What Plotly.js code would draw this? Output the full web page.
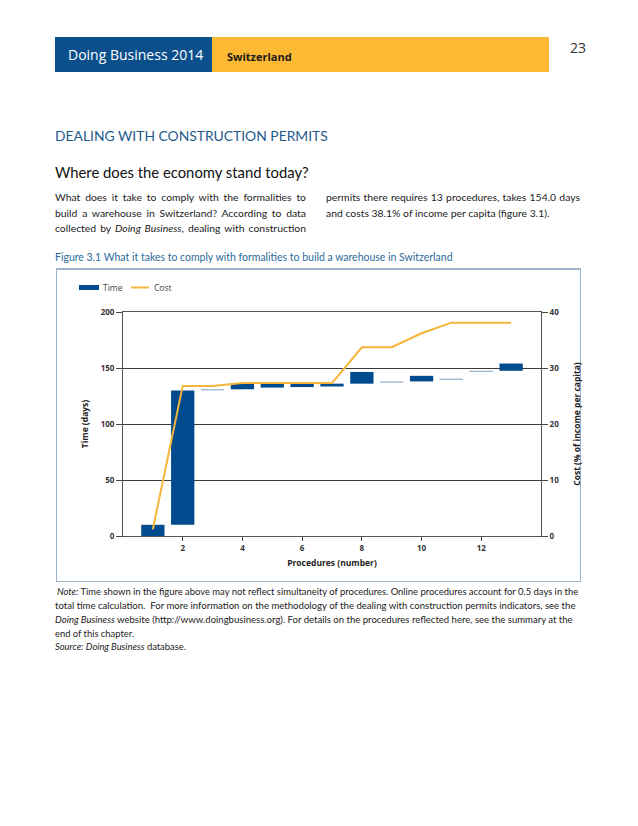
<!DOCTYPE html>
<html><head><meta charset="utf-8">
<script src="https://cdn.plot.ly/plotly-3.0.1.min.js"></script>
<style>
html,body{margin:0;padding:0;background:#fff;width:638px;height:826px;overflow:hidden;}
.abs{position:absolute;white-space:nowrap;}
.body{font-family:Lato,'Open Sans',sans-serif;font-size:10.4px;color:#222;line-height:14px;}
.just{text-align:justify;text-align-last:justify;}
.note{font-family:Lato,'Open Sans',sans-serif;font-size:9.4px;color:#222;line-height:12px;}
#chart{position:absolute;left:0;top:0;width:638px;height:826px;}
</style></head><body>
<div class="abs" style="left:55px;top:37px;width:157px;height:35px;background:#0b4f8c"></div>
<div class="abs" style="left:212px;top:37px;width:337px;height:35px;background:#fdb933"></div>
<div class="abs" style="left:68px;top:45px;font:14px 'Open Sans',sans-serif;color:#fff;line-height:20px">Doing Business 2014</div>
<div class="abs" style="left:227px;top:49px;font:bold 11px 'Open Sans',sans-serif;color:#1a1a1a;line-height:16px">Switzerland</div>
<div class="abs" style="left:570px;top:38px;font:14px 'Open Sans',sans-serif;color:#333;line-height:20px">23</div>

<div class="abs fit" data-w="273" style="left:55px;top:126px;font:400 15.5px Lato,sans-serif;color:#1e5b8a;line-height:20px">DEALING WITH CONSTRUCTION PERMITS</div>
<div class="abs fit" data-w="254" style="left:55px;top:161px;font:18px Lato,sans-serif;color:#111;line-height:22px">Where does the economy stand today?</div>

<div class="abs body just" style="left:55px;top:190px;width:251px">What does it take to comply with the formalities to</div>
<div class="abs body just" style="left:55px;top:205.5px;width:251px">build a warehouse in Switzerland? According to data</div>
<div class="abs body just" style="left:55px;top:221px;width:251px">collected by <i>Doing Business</i>, dealing with construction</div>
<div class="abs body just" style="left:326px;top:190px;width:254px">permits there requires 13 procedures, takes 154.0 days</div>
<div class="abs body" style="left:326px;top:205.5px">and costs 38.1% of income per capita (figure 3.1).</div>

<div class="abs fit" data-w="398" style="left:55px;top:250px;font:9.8px Lato,sans-serif;color:#2b6a9b;line-height:14px">Figure 3.1 What it takes to comply with formalities to build a warehouse in Switzerland</div>

<div class="abs" style="left:56px;top:268px;width:523px;height:311px;border:1px solid #9fb4c9;border-top:2px solid #9fb4c9"></div>

<div class="abs note fit" data-w="521" style="left:57px;top:586px"><i>Note:</i> Time shown in the figure above may not reflect simultaneity of procedures. Online procedures account for 0.5 days in the</div>
<div class="abs note fit" data-w="520" style="left:55px;top:600px">total time calculation.&nbsp; For more information on the methodology of the dealing with construction permits indicators, see the</div>
<div class="abs note fit" data-w="517" style="left:55px;top:614px"><i>Doing Business</i> website (http://www.doingbusiness.org). For details on the procedures reflected here, see the summary at the</div>
<div class="abs note" style="left:55px;top:628px">end of this chapter.</div>
<div class="abs note" style="left:55px;top:641px"><i>Source: Doing Business</i> database.</div>

<div id="chart"></div>
<script>
// fit text widths
document.querySelectorAll('.fit').forEach(function(el){
  var w = parseFloat(el.getAttribute('data-w'));
  var fs = parseFloat(getComputedStyle(el).fontSize);
  var a = el.getBoundingClientRect().width;
  if (a > 0) el.style.fontSize = (fs * w / a) + 'px';
});

// ---- data ----
var procedures = [1,2,3,4,5,6,7,8,9,10,11,12,13];
var timeStart  = [0,10,130,131,132.5,133,133.5,136,137,138,139.5,146.5,147.5];
var timeDays   = [10,120,1,5,3.5,3,2.5,10.5,1,5,1,1,6.5];
var isOnline   = [false,false,true,false,false,false,false,false,true,false,true,true,false];
var cost       = [1.2,26.8,26.8,27.3,27.3,27.3,27.3,33.7,33.7,36.2,38.1,38.1,38.1];
var xTicks     = [2,4,6,8,10,12];
var seriesNames = ['Time','Cost'];

var barBlue = '#004b8d', onlineBlue = '#86a9cd', costOrange = '#f7b539';
var barColors = isOnline.map(function(o){ return o ? onlineBlue : barBlue; });

var tickFont = {family:'Open Sans, sans-serif', size:8, color:'#333', weight:700};
var titleFont = {family:'Open Sans, sans-serif', size:8.5, color:'#222', weight:700};
var legFont = {family:'Open Sans, sans-serif', size:8.5, color:'#444'};

var traces = [
  {type:'bar', name:seriesNames[0], x:procedures, y:timeDays, base:timeStart, width:0.78,
   marker:{color:barColors, line:{width:0}}, yaxis:'y', hoverinfo:'skip', showlegend:false},
  {type:'scatter', mode:'lines', name:seriesNames[1], x:procedures, y:cost, yaxis:'y2',
   line:{color:costOrange, width:2}, hoverinfo:'skip', showlegend:false}
];

// legend drawn in paper coordinates (plot area spans 123-541 px, 312-536 px)
var legendShapes = [
  {type:'rect', xref:'paper', yref:'paper', x0:-0.1053, x1:-0.0574, y0:1.0982, y1:1.1205,
   fillcolor:barBlue, line:{width:0}},
  {type:'line', xref:'paper', yref:'paper', x0:0.0191, x1:0.0622, y0:1.1094, y1:1.1094,
   line:{color:costOrange, width:2}}
];
var legendLabels = [
  {xref:'paper', yref:'paper', x:-0.0526, y:1.1094, xanchor:'left', yanchor:'middle',
   text:seriesNames[0], showarrow:false, font:legFont},
  {xref:'paper', yref:'paper', x:0.0694, y:1.1094, xanchor:'left', yanchor:'middle',
   text:seriesNames[1], showarrow:false, font:legFont}
];

var layout = {
  width:638, height:826,
  margin:{l:123, r:97, t:312, b:290},
  paper_bgcolor:'rgba(0,0,0,0)', plot_bgcolor:'rgba(0,0,0,0)',
  showlegend:false,
  shapes:legendShapes,
  annotations:legendLabels,
  xaxis:{range:[0,14], tickmode:'array', tickvals:xTicks, ticks:'outside', ticklen:4,
         tickcolor:'#444', showline:true, linecolor:'#555', linewidth:1, mirror:true,
         showgrid:false, zeroline:false, tickfont:tickFont,
         title:{text:'Procedures (number)', font:titleFont, standoff:8}},
  yaxis:{range:[0,200], dtick:50, ticks:'outside', ticklen:6, tickcolor:'#444',
         showline:true, linecolor:'#555', linewidth:1, showgrid:true, gridcolor:'#3a3a3a',
         gridwidth:1, zeroline:false, tickfont:tickFont,
         title:{text:'Time (days)', font:titleFont, standoff:10}},
  yaxis2:{range:[0,40], dtick:10, overlaying:'y', side:'right', ticks:'outside', ticklen:6,
          tickcolor:'#444', showline:true, linecolor:'#555', linewidth:1, showgrid:false,
          zeroline:false, tickfont:tickFont,
          title:{text:'Cost (% of income per capita)', font:titleFont, standoff:15}}
};

Plotly.newPlot('chart', traces, layout, {displayModeBar:false, staticPlot:true});
</script>
</body></html>
